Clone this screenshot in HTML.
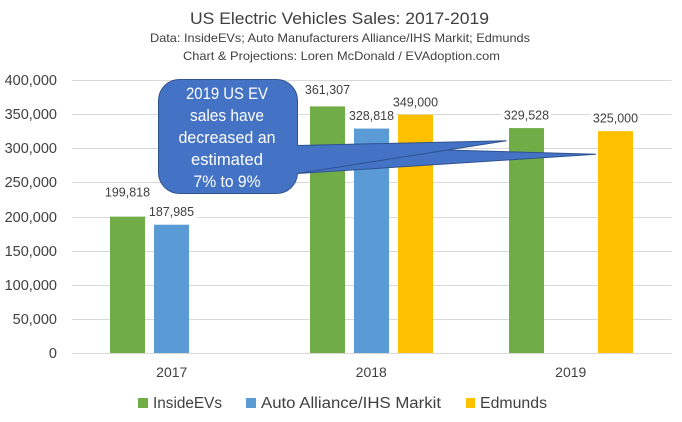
<!DOCTYPE html>
<html lang="en">
<head>
<meta charset="utf-8">
<title>US Electric Vehicles Sales: 2017-2019</title>
<style>
html,body{margin:0;padding:0;background:#fff;}
#chart{display:block;width:682px;height:422px;font-family:"Liberation Sans",sans-serif;}
text{fill:#404040;}
</style>
</head>
<body>
<svg id="chart" xmlns="http://www.w3.org/2000/svg" width="682" height="422" viewBox="0 0 682 422">
  <rect width="682" height="422" fill="#ffffff"/>
  <text x="339.5" y="24" text-anchor="middle" font-size="17" textLength="299" lengthAdjust="spacingAndGlyphs">US Electric Vehicles Sales: 2017-2019</text>
  <text x="340" y="42" text-anchor="middle" font-size="12" textLength="380" lengthAdjust="spacingAndGlyphs">Data: InsideEVs; Auto Manufacturers Alliance/IHS Markit; Edmunds</text>
  <text x="341.5" y="60" text-anchor="middle" font-size="12" textLength="317" lengthAdjust="spacingAndGlyphs">Chart &amp; Projections: Loren McDonald / EVAdoption.com</text>
  <g id="grid"></g>
  <g id="yaxis"></g>
  <g id="xaxis"></g>
  <g id="bars"></g>
  <g id="labels"></g>
  <g>
    <path fill="#4472c4" stroke="#2f528f" stroke-width="1" stroke-linejoin="miter"
      d="M290 145.5 L596 154.3 L290 174 Z"/>
    <path fill="#4472c4" stroke="#2f528f" stroke-width="1" stroke-linejoin="miter"
      d="M180 79.5 H276 A21 21 0 0 1 297.5 100.5 V145.5 L506.5 140.7 L297.5 173.5 A21 21 0 0 1 276 193.5 H180 A21 21 0 0 1 158.5 172.5 V100.5 A21 21 0 0 1 180 79.5 Z"/>
    <g font-size="16.5" text-anchor="middle">
      <text x="227" y="99" textLength="82" lengthAdjust="spacingAndGlyphs" style="fill:#ffffff">2019 US EV</text>
      <text x="227" y="121" textLength="74" lengthAdjust="spacingAndGlyphs" style="fill:#ffffff">sales have</text>
      <text x="227" y="143" textLength="97" lengthAdjust="spacingAndGlyphs" style="fill:#ffffff">decreased an</text>
      <text x="227" y="165" textLength="72" lengthAdjust="spacingAndGlyphs" style="fill:#ffffff">estimated</text>
      <text x="227" y="187" textLength="67" lengthAdjust="spacingAndGlyphs" style="fill:#ffffff">7% to 9%</text>
    </g>
  </g>
  <g>
    <g>
      <rect x="138" y="398" width="10" height="10" fill="#70ad47"/>
      <text x="153" y="408" font-size="15.5" textLength="69" lengthAdjust="spacingAndGlyphs">InsideEVs</text>
    </g>
    <g>
      <rect x="246" y="398" width="10" height="10" fill="#5b9bd5"/>
      <text x="261" y="408" font-size="15.5" textLength="180" lengthAdjust="spacingAndGlyphs">Auto Alliance/IHS Markit</text>
    </g>
    <g>
      <rect x="466" y="398" width="9" height="10" fill="#ffc000"/>
      <text x="480" y="408" font-size="15.5" textLength="67" lengthAdjust="spacingAndGlyphs">Edmunds</text>
    </g>
  </g>
</svg>
<script>
const categories = ["2017", "2018", "2019"];
const insideEVs = [199818, 361307, 329528];
const autoAlliance = [187985, 328818, null];
const edmunds = [null, 349000, 325000];
const yTicks = [0, 50000, 100000, 150000, 200000, 250000, 300000, 350000, 400000];

const NS = "http://www.w3.org/2000/svg";
const plotLeft = 72, plotRight = 670.5, gridRight = 671.5, plotBottom = 353, plotTop = 80, yMax = 400000;
const barWidth = 35, barStep = 44.25;

function yScale(v) { return plotBottom - (v / yMax) * (plotBottom - plotTop); }
function xCenter(i) { return plotLeft + (plotRight - plotLeft) * (i + 0.5) / categories.length; }
function fmt(v) { return v.toLocaleString("en-US"); }
function make(tag, attrs, parent) {
  const el = document.createElementNS(NS, tag);
  for (const k in attrs) el.setAttribute(k, attrs[k]);
  parent.appendChild(el);
  return el;
}

const grid = document.getElementById("grid");
const yaxis = document.getElementById("yaxis");
const xaxis = document.getElementById("xaxis");
const barsG = document.getElementById("bars");
const labelsG = document.getElementById("labels");

yTicks.forEach(function (t) {
  const y = Math.round(yScale(t)) + 0.5;
  const line = make("line", { x1: plotLeft, x2: gridRight, y1: y, y2: y, stroke: "#d9d9d9", "stroke-width": 1 }, grid);
  
  
  const label = make("text", { x: 57, y: y + 4.5, "text-anchor": "end", "font-size": 14.5 }, yaxis);
  
  
  label.textContent = fmt(t);
});

categories.forEach(function (c, i) {
  const label = make("text", { x: xCenter(i), y: 377, "text-anchor": "middle", "font-size": 14 }, xaxis);
  
  
  label.textContent = c;
});

function drawSeries(values, color, slot, seriesName) {
  values.forEach(function (v, i) {
    if (v === null) return;
    const left = Math.round(xCenter(i) + slot * barStep - barWidth / 2);
    const cx = left + barWidth / 2;
    const top = yScale(v);
    const bar = make("rect", { x: left, y: top, width: barWidth, height: plotBottom - top, fill: color }, barsG);
    
    
    let lift = 13;
    if (seriesName === "insideevs" && i === 0) lift = 24.5;
    if (seriesName === "insideevs" && i === 1) lift = 17;
    const bg = make("rect", { x: cx - 25, y: top - lift - 8, width: 50, height: 16, fill: "#ffffff" }, labelsG);
    
    
    const label = make("text", { x: cx, y: top - lift + 4.5, "text-anchor": "middle", "font-size": 12.5 }, labelsG);
    
    
    label.textContent = fmt(v);
  });
}

drawSeries(insideEVs, "#70ad47", -1, "insideevs");
drawSeries(autoAlliance, "#5b9bd5", 0, "auto-alliance");
drawSeries(edmunds, "#ffc000", 1, "edmunds");
</script>
</body>
</html>
